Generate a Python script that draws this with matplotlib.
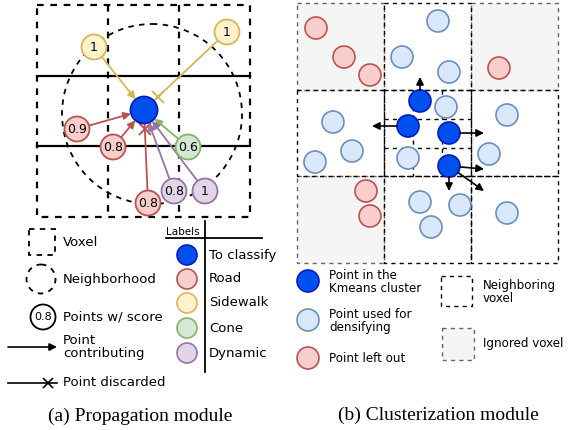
import matplotlib
matplotlib.use("Agg")
import matplotlib.pyplot as plt
from matplotlib.patches import Circle, Rectangle, FancyArrowPatch
import numpy as np

# ---------------- data ----------------
# colour scheme per class: (fill, edge)
class_names = ["To classify", "Road", "Sidewalk", "Cone", "Dynamic"]
class_fill = ["#0050ef", "#f8cecc", "#fff2cc", "#d5e8d4", "#e1d5e7"]
class_edge = ["#001dbc", "#b85450", "#d6b656", "#82b366", "#9673a6"]

# (a) propagation module
target_xy = (144, 110)
nb_points_x = [94, 227, 77, 113, 148, 188, 174, 205]
nb_points_y = [47, 32, 129, 147, 203, 147, 191, 191]
nb_scores = ["1", "1", "0.9", "0.8", "0.8", "0.6", "0.8", "1"]
nb_class = [2, 2, 1, 1, 1, 3, 4, 4]
nb_fate = ["contrib", "discard", "contrib", "contrib", "discard", "contrib", "contrib", "contrib"]

left_grid_x = [37, 108, 179, 250]
left_grid_y = [5, 76, 146, 217]
neigh_center = (152, 114)
neigh_radius = 90

left_legend_items = ["Voxel", "Neighborhood", "Points w/ score", "Point\ncontributing", "Point discarded"]

# (b) clusterization module
right_grid_x = [297, 384, 471, 558]
right_grid_y = [3, 90, 176, 263]
ignored_cells = [(0, 0), (2, 0), (0, 2)]  # (col, row)
sub_x = [413, 442]
sub_y = [119, 148]

kmeans_x = [420, 408, 449, 449]
kmeans_y = [101, 126, 133, 166]
dens_x = [438, 402, 449, 333, 352, 315, 446, 507, 489, 408, 420, 460, 431, 507]
dens_y = [21, 57, 72, 122, 151, 162, 107, 115, 154, 158, 202, 205, 227, 213]
out_x = [316, 344, 370, 499, 366, 370]
out_y = [28, 57, 75, 68, 191, 216]

# arrows from kmeans points: (point index, end x, end y)
push_from = [0, 1, 2, 3, 3, 3]
push_to_x = [420, 372, 484, 484, 449, 484]
push_to_y = [77, 126, 133, 169, 191, 191]

right_legend_items = ["Point in the\nKmeans cluster", "Point used for\ndensifying", "Point left out",
                      "Neighboring\nvoxel", "Ignored voxel"]

captions = ["(a) Propagation module", "(b) Clusterization module"]

# ---------------- drawing ----------------
W, H = 570, 430
fig = plt.figure(figsize=(W / 100, H / 100), dpi=100)
ax = fig.add_axes([0, 0, 1, 1])
ax.set_xlim(0, W)
ax.set_ylim(H, 0)
ax.axis("off")

DASH = (0, (3, 3))
FONT = "DejaVu Sans"


def circ(x, y, r, fc, ec, lw=1.3, ls="-", z=3):
    ax.add_patch(Circle((x, y), r, facecolor=fc, edgecolor=ec, lw=lw, linestyle=ls, zorder=z))


def arrow(x0, y0, x1, y1, color, lw=1.3, z=2, ms=11):
    ax.add_patch(FancyArrowPatch((x0, y0), (x1, y1), arrowstyle="-|>", mutation_scale=ms,
                                 color=color, lw=lw, shrinkA=0, shrinkB=0, zorder=z))


# --- left grid ---
for gx in left_grid_x[1:-1]:
    ax.plot([gx, gx], [left_grid_y[0], left_grid_y[-1]], color="black", lw=1.6, ls=DASH, zorder=1)
for gy in left_grid_y[1:-1]:
    ax.plot([left_grid_x[0], left_grid_x[-1]], [gy, gy], color="black", lw=1.6, zorder=1)
ax.add_patch(Rectangle((left_grid_x[0], left_grid_y[0]), left_grid_x[-1] - left_grid_x[0],
                       left_grid_y[-1] - left_grid_y[0], fill=False, ec="black", lw=1.6, ls=DASH, zorder=1))
ax.add_patch(Circle(neigh_center, neigh_radius, fill=False, ec="black", lw=1.3, ls=DASH, zorder=1))

R_T = 13.5
R_P = 12.5
tx, ty = target_xy
for x, y, s, c, f in zip(nb_points_x, nb_points_y, nb_scores, nb_class, nb_fate):
    d = np.hypot(tx - x, ty - y)
    ux, uy = (tx - x) / d, (ty - y) / d
    sx, sy = x + ux * R_P, y + uy * R_P
    ex, ey = tx - ux * R_T, ty - uy * R_T
    col = class_edge[c]
    if f == "contrib":
        arrow(sx, sy, ex, ey, col)
    else:
        ax.plot([sx, ex], [sy, ey], color=col, lw=1.3, zorder=2)
        mx, my = ex - ux * 6, ey - uy * 6
        ax.plot([mx], [my], marker="x", ms=8, mew=1.4, color=col, zorder=2)
    circ(x, y, R_P, class_fill[c], col)
    ax.text(x, y + 0.5, s, ha="center", va="center", fontsize=9, family=FONT, zorder=4)
circ(tx, ty, R_T, class_fill[0], class_edge[0], z=4)

# --- left legend ---
lx_text = 63
ax.add_patch(Rectangle((29, 229), 26, 26, fill=False, ec="black", lw=1.3, ls=DASH))
ax.text(lx_text, 243, left_legend_items[0], fontsize=9.5, va="center", family=FONT)
ax.add_patch(Circle((41, 279), 14.5, fill=False, ec="black", lw=1.3, ls=DASH))
ax.text(lx_text, 280, left_legend_items[1], fontsize=9.5, va="center", family=FONT)
ax.add_patch(Circle((43, 317), 12.5, fill=False, ec="black", lw=1.3))
ax.text(43, 317.5, "0.8", fontsize=8, ha="center", va="center", family=FONT)
ax.text(lx_text, 317, left_legend_items[2], fontsize=9.5, va="center", family=FONT)
ax.text(lx_text, 347, left_legend_items[3], fontsize=9.5, va="center", family=FONT, linespacing=1.05)
arrow(8, 347, 57, 347, "black", lw=1.2)
ax.text(lx_text, 383, left_legend_items[4], fontsize=9.5, va="center", family=FONT)
ax.plot([8, 57], [383, 383], color="black", lw=1.2)
ax.plot([48], [383], marker="x", ms=7, mew=1.2, color="black")

# labels table
ax.plot([205, 205], [221, 372], color="black", lw=1.3)
ax.plot([166, 262], [238, 238], color="black", lw=1.3)
ax.text(166, 232, "Labels", fontsize=7.5, va="center", family=FONT)
label_y = [255, 279, 303, 328, 353]
for i, (name, ly) in enumerate(zip(class_names, label_y)):
    circ(187, ly, 10, class_fill[i], class_edge[i], lw=1.2)
    ax.text(209, ly, name, fontsize=9.5, va="center", family=FONT)

# --- right grid ---
for ci in range(3):
    for ri in range(3):
        x0, x1 = right_grid_x[ci], right_grid_x[ci + 1]
        y0, y1 = right_grid_y[ri], right_grid_y[ri + 1]
        if (ci, ri) in ignored_cells:
            ax.add_patch(Rectangle((x0, y0), x1 - x0, y1 - y0, fc="#f5f5f5", ec="#666666",
                                   lw=1.0, ls=DASH, zorder=0))
for ci in range(3):
    for ri in range(3):
        x0, x1 = right_grid_x[ci], right_grid_x[ci + 1]
        y0, y1 = right_grid_y[ri], right_grid_y[ri + 1]
        if (ci, ri) not in ignored_cells:
            ax.add_patch(Rectangle((x0, y0), x1 - x0, y1 - y0, fill=False, ec="black",
                                   lw=1.0, ls=DASH, zorder=1))
for sx in sub_x:
    ax.plot([sx, sx], [right_grid_y[1], right_grid_y[2]], color="black", lw=1.0, ls=DASH, zorder=1)
for sy in sub_y:
    ax.plot([right_grid_x[1], right_grid_x[2]], [sy, sy], color="black", lw=1.0, ls=DASH, zorder=1)

R_R = 11
for x, y in zip(out_x, out_y):
    circ(x, y, R_R, "#f8cecc", "#b85450", lw=1.2)
for x, y in zip(dens_x, dens_y):
    circ(x, y, R_R, "#dae8fc", "#6c8ebf", lw=1.2)
for i, ex, ey in zip(push_from, push_to_x, push_to_y):
    x, y = kmeans_x[i], kmeans_y[i]
    d = np.hypot(ex - x, ey - y)
    ux, uy = (ex - x) / d, (ey - y) / d
    arrow(x + ux * R_R, y + uy * R_R, ex, ey, "black", lw=1.2, z=5, ms=11)
for x, y in zip(kmeans_x, kmeans_y):
    circ(x, y, R_R, "#0050ef", "#001dbc", lw=1.2, z=4)

# --- right legend ---
rl_x = 329
circ(308, 281, R_R, "#0050ef", "#001dbc", lw=1.2)
ax.text(rl_x, 282, right_legend_items[0], fontsize=8.6, va="center", family=FONT, linespacing=1.05)
circ(308, 320, R_R, "#dae8fc", "#6c8ebf", lw=1.2)
ax.text(rl_x, 321, right_legend_items[1], fontsize=8.6, va="center", family=FONT, linespacing=1.05)
circ(308, 358, R_R, "#f8cecc", "#b85450", lw=1.2)
ax.text(rl_x, 358, right_legend_items[2], fontsize=8.6, va="center", family=FONT)
ax.add_patch(Rectangle((441, 276), 31, 30, fill=False, ec="black", lw=1.0, ls=DASH))
ax.text(483, 292, right_legend_items[3], fontsize=8.6, va="center", family=FONT, linespacing=1.05)
ax.add_patch(Rectangle((442, 328), 32, 32, fc="#f5f5f5", ec="#666666", lw=1.0, ls=DASH))
ax.text(483, 344, right_legend_items[4], fontsize=8.6, va="center", family=FONT)

# --- captions ---
ax.text(140, 416, captions[0], fontsize=14, ha="center", va="center", family="Liberation Serif")
ax.text(438, 415, captions[1], fontsize=14, ha="center", va="center", family="Liberation Serif")

fig.savefig("out.png", dpi=100)
